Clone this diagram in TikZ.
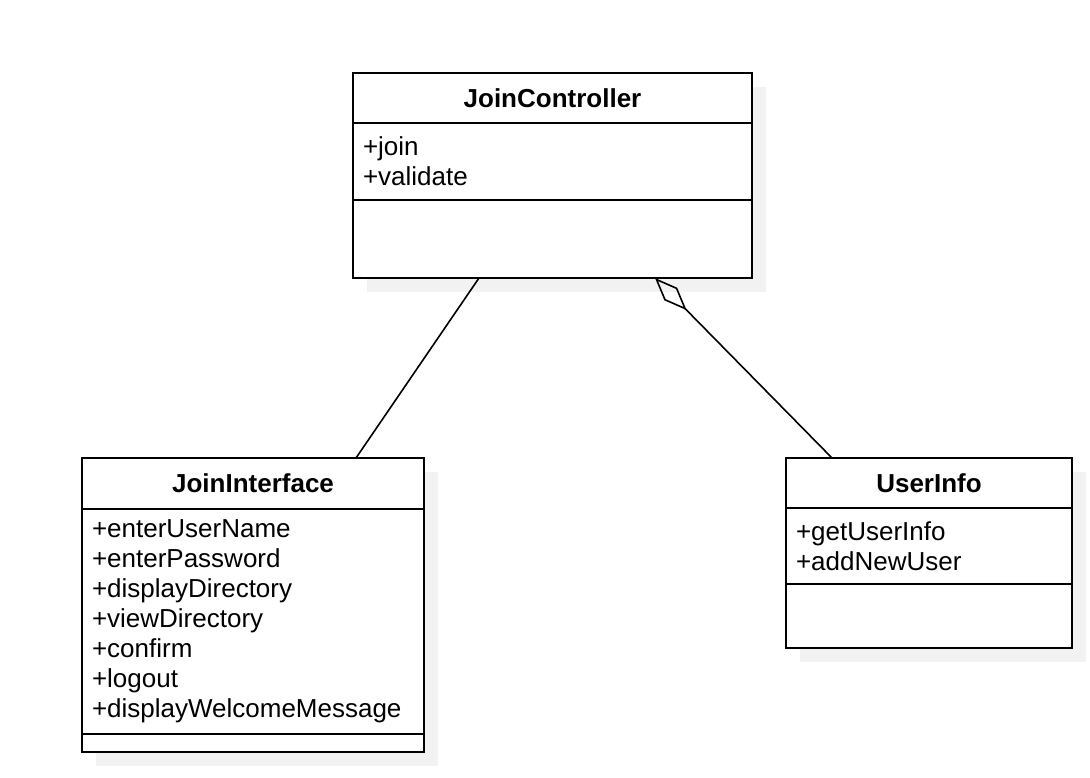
\documentclass[tikz,border=0pt]{standalone}
\usepackage{fontspec}
\setmainfont{Liberation Sans}
\usetikzlibrary{positioning,shadows,arrows.meta}
\tikzset{
  umlbox/.style={draw, line width=2.2pt, fill=white, inner xsep=10pt, inner ysep=0pt,
    outer sep=0pt, font=\fontsize{26}{30}\selectfont,
    drop shadow={shadow xshift=14pt, shadow yshift=-14pt, fill=black!5, opacity=1}},
  classname/.style={umlbox, font=\fontsize{26}{30}\selectfont\bfseries, anchor=north west},
  classattr/.style={umlbox, align=left, text width=#1},
  classops/.style={umlbox, minimum width=#1},
  assoc/.style={line width=1.6pt},
  aggr/.style={assoc, {Diamond[open, length=45pt, width=18pt]}-}
}
\begin{document}
\begin{tikzpicture}[x=1pt, y=-1pt]
  \useasboundingbox (0, 0) rectangle (1090, 778);
  \node[classname, minimum width=399pt, minimum height=50pt] (jc) at (353, 73) {JoinController};
  \node[classattr=379pt, minimum height=77pt, below=0pt of jc] (jcattr) {+join\\+validate};
  \node[classops=399pt, minimum height=78pt, below=0pt of jcattr] (jcops) {};

  \node[classname, minimum width=342pt, minimum height=51pt] (ji) at (82, 458) {JoinInterface};
  \node[classattr=322pt, minimum height=225pt, below=0pt of ji] (jiattr)
    {+enterUserName\\+enterPassword\\+displayDirectory\\+viewDirectory\\+confirm\\+logout\\+displayWelcomeMessage};
  \node[classops=342pt, minimum height=18pt, below=0pt of jiattr] (jiops) {};

  \node[classname, minimum width=286pt, minimum height=50pt] (ui) at (786, 458) {UserInfo};
  \node[classattr=266pt, minimum height=76pt, below=0pt of ui] (uiattr) {+getUserInfo\\+addNewUser};
  \node[classops=286pt, minimum height=64pt, below=0pt of uiattr] (uiops) {};

  \draw[assoc] ([xshift=126pt]jcops.south west) -- ([xshift=274pt]ji.north west);
  \draw[aggr] ([xshift=302pt]jcops.south west) -- ([xshift=46pt]ui.north west);
\end{tikzpicture}
\end{document}
